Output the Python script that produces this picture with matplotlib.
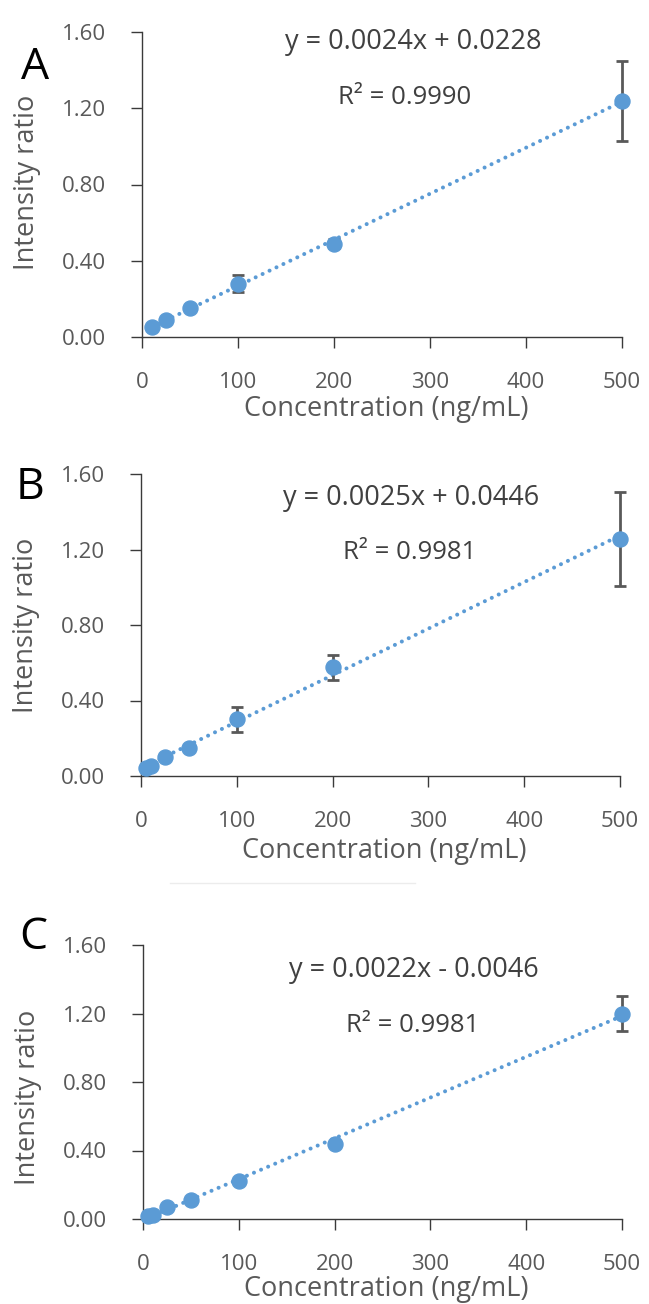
import numpy as np
import matplotlib
matplotlib.use("Agg")
import matplotlib.pyplot as plt

plt.rcParams['font.family'] = ['Open Sans', 'DejaVu Sans']

# calibration data
conc_a = [10, 25, 50, 100, 200, 500]
ratio_a = [0.05, 0.09, 0.15, 0.28, 0.49, 1.24]
err_a = [0, 0, 0, 0.045, 0.025, 0.21]

conc_b = [5, 10, 25, 50, 100, 200, 500]
ratio_b = [0.045, 0.055, 0.10, 0.15, 0.30, 0.575, 1.257]
err_b = [0, 0, 0.015, 0.015, 0.068, 0.066, 0.248]

conc_c = [5, 10, 25, 50, 100, 200, 500]
ratio_c = [0.018, 0.025, 0.068, 0.11, 0.22, 0.44, 1.20]
err_c = [0, 0, 0, 0, 0, 0.01, 0.10]

panel_letters = ["A", "B", "C"]
equations = ["y = 0.0024x + 0.0228", "y = 0.0025x + 0.0446", "y = 0.0022x - 0.0046"]
r_squared = ["R\u00b2 = 0.9990", "R\u00b2 = 0.9981", "R\u00b2 = 0.9981"]

x_ticks = [0, 100, 200, 300, 400, 500]
y_ticks = [0.0, 0.4, 0.8, 1.2, 1.6]

blue = "#5B9BD5"
grey = "#595959"
W, H = 649, 1304

fig = plt.figure(figsize=(W / 100, H / 100), dpi=100)

# axes boxes in pixels: left, top, right, bottom
boxes = [(142, 32, 622, 337), (141, 474, 620, 776), (143, 945, 622, 1219)]
# where the text sits (pixels)
letter_pos = [(35, 68), (30, 488), (33, 938)]
eq_pos = [(413, 42), (411, 498), (414, 970)]
r2_pos = [(405, 97), (410, 553), (413, 1026)]
ylab_y = [0.508, 0.5, 0.445]
xlab_y = [-0.19, -0.202, -0.204]

datasets = [(conc_a, ratio_a, err_a), (conc_b, ratio_b, err_b), (conc_c, ratio_c, err_c)]

for i, (conc, ratio, err) in enumerate(datasets):
    l, t, r, b = boxes[i]
    ax = fig.add_axes([l / W, 1 - b / H, (r - l) / W, (b - t) / H])

    # linear trendline through the points
    slope, icpt = np.polyfit(conc, ratio, 1)
    xs = np.array([min(conc), max(conc)])
    ax.plot(xs, slope * xs + icpt, color=blue, lw=2.9,
            linestyle=(0, (0.01, 1.9)), dash_capstyle='round', zorder=2, clip_on=False)

    ax.errorbar(conc, ratio, yerr=err, fmt='none', ecolor=grey, elinewidth=2,
                capsize=4, capthick=2, zorder=3, clip_on=False)
    ax.plot(conc, ratio, 'o', color=blue, markersize=10.8, zorder=4, clip_on=False)

    ax.set_xlim(0, 500)
    ax.set_ylim(0, 1.6)
    ax.set_xticks(x_ticks)
    ax.set_yticks(y_ticks)
    ax.set_yticklabels([f"{v:.2f}" for v in y_ticks])
    for s in ['top', 'right']:
        ax.spines[s].set_visible(False)
    for s in ['left', 'bottom']:
        ax.spines[s].set_color('#3a3a3a')
        ax.spines[s].set_linewidth(1.0)
    ax.tick_params(axis='both', direction='out', length=7.9, width=1.0, color='#3a3a3a',
                   labelsize=16, labelcolor=grey)
    ax.tick_params(axis='x', pad=17)
    ax.tick_params(axis='y', pad=18)

    ax.set_ylabel("Intensity ratio", fontsize=19.5, color=grey)
    ax.set_xlabel("Concentration (ng/mL)", fontsize=19.5, color=grey)
    ax.yaxis.set_label_coords(-0.21, ylab_y[i])
    ax.xaxis.set_label_coords(0.508, xlab_y[i])

    fig.text(letter_pos[i][0] / W, 1 - letter_pos[i][1] / H, panel_letters[i],
             fontsize=32, color='black', ha='center', va='center')
    fig.text(eq_pos[i][0] / W, 1 - eq_pos[i][1] / H, equations[i],
             fontsize=19.5, color='#404040', ha='center', va='center')
    fig.text(r2_pos[i][0] / W, 1 - r2_pos[i][1] / H, r_squared[i],
             fontsize=18.5, color='#404040', ha='center', va='center')

# faint leftover line between panels B and C
fig.add_artist(plt.Line2D([170 / W, 415 / W], [1 - 883 / H, 1 - 883 / H],
                          color='#ececec', lw=1))

fig.savefig("out.png", dpi=100, facecolor='white')
